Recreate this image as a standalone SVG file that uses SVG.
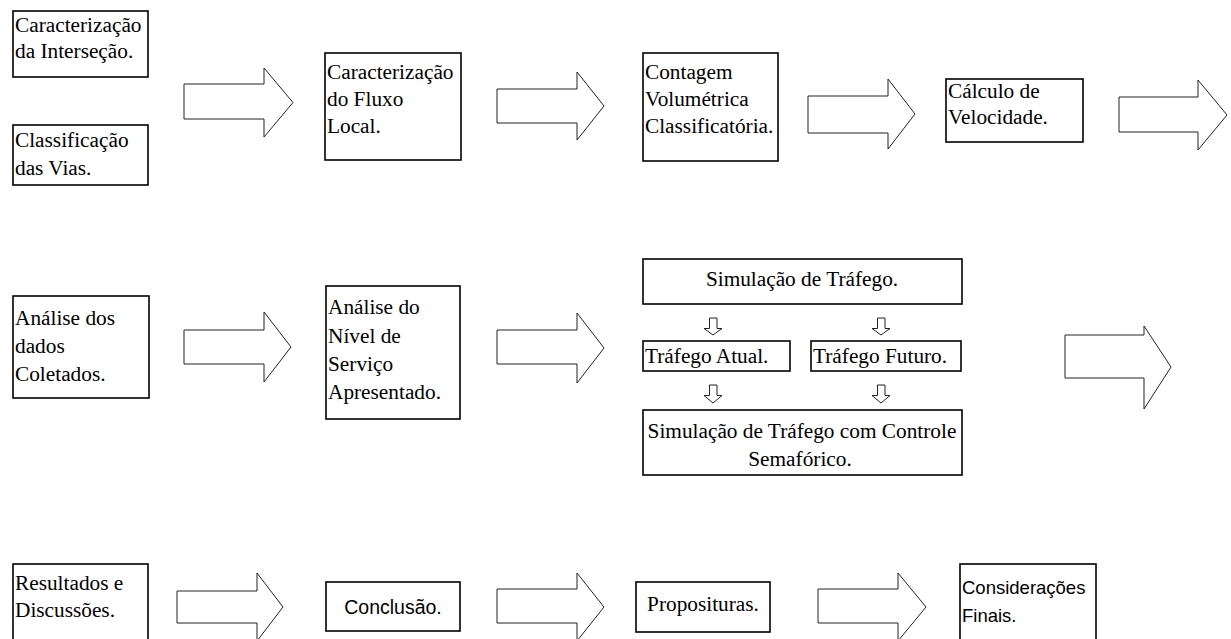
<svg xmlns="http://www.w3.org/2000/svg" width="1231" height="639" viewBox="0 0 1231 639">
<style>
.box{fill:#fff;stroke:#000;stroke-width:1.6}
.t{font-family:"Liberation Serif","Times New Roman",serif;font-size:21.3px;fill:#000}
.s{font-family:"Liberation Sans",Arial,sans-serif;fill:#000}
.c{text-anchor:middle}
.arr{fill:#fff;stroke:#222;stroke-width:1}
</style>
<rect width="1231" height="639" fill="#fff"/>
<g id="connectors">
<polygon class="arr" points="184,84 264,84 264,68 293,102.5 264,137 264,119 184,119"/>
<polygon class="arr" points="497,89 577,89 577,72 604,106 577,140 577,123 497,123"/>
<polygon class="arr" points="808,96 888,96 888,79 915,114 888,149 888,133 808,133"/>
<polygon class="arr" points="1119,97 1198,97 1198,80 1227,115 1198,150 1198,132 1119,132"/>
<polygon class="arr" points="184,330 264,330 264,312 291,347 264,382 264,364 184,364"/>
<polygon class="arr" points="497,330 577,330 577,313 604,348 577,383 577,364 497,364"/>
<polygon class="arr" points="1065,335 1144,335 1144,326 1171,367 1144,409 1144,378 1065,378"/>
<polygon class="arr" points="709.5,318 717,318 717,328.5 722,328.5 713,335 704,328.5 709.5,328.5"/>
<polygon class="arr" points="877.5,318 885,318 885,328.5 890,328.5 881,335 872,328.5 877.5,328.5"/>
<polygon class="arr" points="709.5,385 717,385 717,395.5 722,395.5 713,403 704,395.5 709.5,395.5"/>
<polygon class="arr" points="877.5,385 885,385 885,395.5 890,395.5 881,403 872,395.5 877.5,395.5"/>
<polygon class="arr" points="177,591 257,591 257,573 283,607 257,641 257,623 177,623"/>
<polygon class="arr" points="497,589 577,589 577,573 604,607 577,641 577,623 497,623"/>
<polygon class="arr" points="818,589 898,589 898,573 926,607 898,641 898,623 818,623"/>
</g>
<g id="n1"><rect class="box" x="13" y="11" width="135" height="66"/>
<text class="t" x="15" y="32">Caracterização</text><text class="t" x="15" y="58">da Interseção.</text></g>
<g id="n2"><rect class="box" x="13" y="125" width="135" height="60"/>
<text class="t" x="15" y="147">Classificação</text><text class="t" x="15" y="175">das Vias.</text></g>
<g id="n3"><rect class="box" x="325" y="53" width="136" height="107"/>
<text class="t" x="327" y="79">Caracterização</text><text class="t" x="327" y="106">do Fluxo</text><text class="t" x="327" y="133">Local.</text></g>
<g id="n4"><rect class="box" x="643" y="53" width="135" height="108"/>
<text class="t" x="645" y="79">Contagem</text><text class="t" x="645" y="106">Volumétrica</text><text class="t" x="645" y="133">Classificatória.</text></g>
<g id="n5"><rect class="box" x="946" y="79" width="137" height="63"/>
<text class="t" x="948" y="98">Cálculo de</text><text class="t" x="948" y="124">Velocidade.</text></g>
<g id="n6"><rect class="box" x="13" y="296" width="136" height="102"/>
<text class="t" x="15" y="325">Análise dos</text><text class="t" x="15" y="353">dados</text><text class="t" x="15" y="381">Coletados.</text></g>
<g id="n7"><rect class="box" x="326" y="286" width="134" height="133"/>
<text class="t" x="328" y="314">Análise do</text><text class="t" x="328" y="343">Nível de</text><text class="t" x="328" y="371">Serviço</text><text class="t" x="328" y="399">Apresentado.</text></g>
<g id="n8"><rect class="box" x="643" y="259" width="319" height="45"/>
<text class="t c" x="802" y="286">Simulação de Tráfego.</text></g>
<g id="n9"><rect class="box" x="643" y="341" width="147" height="30"/>
<text class="t" x="645" y="363">Tráfego Atual.</text></g>
<g id="n10"><rect class="box" x="811" y="341" width="150" height="30"/>
<text class="t" x="813" y="363">Tráfego Futuro.</text></g>
<g id="n11"><rect class="box" x="643" y="410" width="319" height="65"/>
<text class="t c" x="802" y="438">Simulação de Tráfego com Controle</text><text class="t c" x="800" y="466">Semafórico.</text></g>
<g id="n12"><rect class="box" x="13" y="564" width="135" height="85"/>
<text class="t" x="15" y="590">Resultados e</text><text class="t" x="15" y="617">Discussões.</text></g>
<g id="n13"><rect class="box" x="326" y="582" width="134" height="49"/>
<text class="s c" x="393" y="614" font-size="19.5px">Conclusão.</text></g>
<g id="n14"><rect class="box" x="636" y="582" width="134" height="50"/>
<text class="t c" x="703" y="611">Proposituras.</text></g>
<g id="n15"><rect class="box" x="960" y="564" width="136" height="85"/>
<text class="s" x="962" y="594" font-size="18.5px">Considerações</text><text class="s" x="962" y="622" font-size="18.5px">Finais.</text></g>
</svg>
